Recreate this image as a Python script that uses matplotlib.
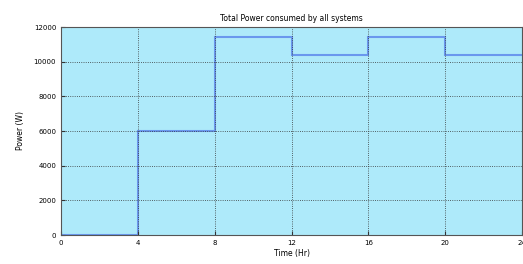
import matplotlib.pyplot as plt

# total power step profile (W) over the day
hours = [0, 4, 8, 12, 16, 20, 24]
power = [0, 6000, 11400, 10400, 11400, 10400]

fig = plt.figure(figsize=(5.23, 2.64), dpi=100)
ax = fig.add_axes([61 / 523, 29 / 264, 461 / 523, 208 / 264])
ax.set_facecolor('#aeeafa')

ax.stairs(power, hours, color='#6a98ee', linewidth=1.5, baseline=None)

ax.set_xlim(0, 24)
ax.set_ylim(0, 12000)
ax.set_xticks(hours)
ax.set_yticks(range(0, 12001, 2000))
ax.grid(True, color='#333333', linestyle=':', linewidth=0.6)
ax.tick_params(direction='in', labelsize=5, length=3, color='#333333')
for s in ax.spines.values():
    s.set_color('#555555')
    s.set_linewidth(0.8)

ax.set_title('Total Power consumed by all systems', fontsize=5.5, pad=4)
ax.set_xlabel('Time (Hr)', fontsize=5.5, labelpad=2)
ax.set_ylabel('Power (W)', fontsize=5.5, labelpad=6)

fig.savefig('out.png', dpi=100)
